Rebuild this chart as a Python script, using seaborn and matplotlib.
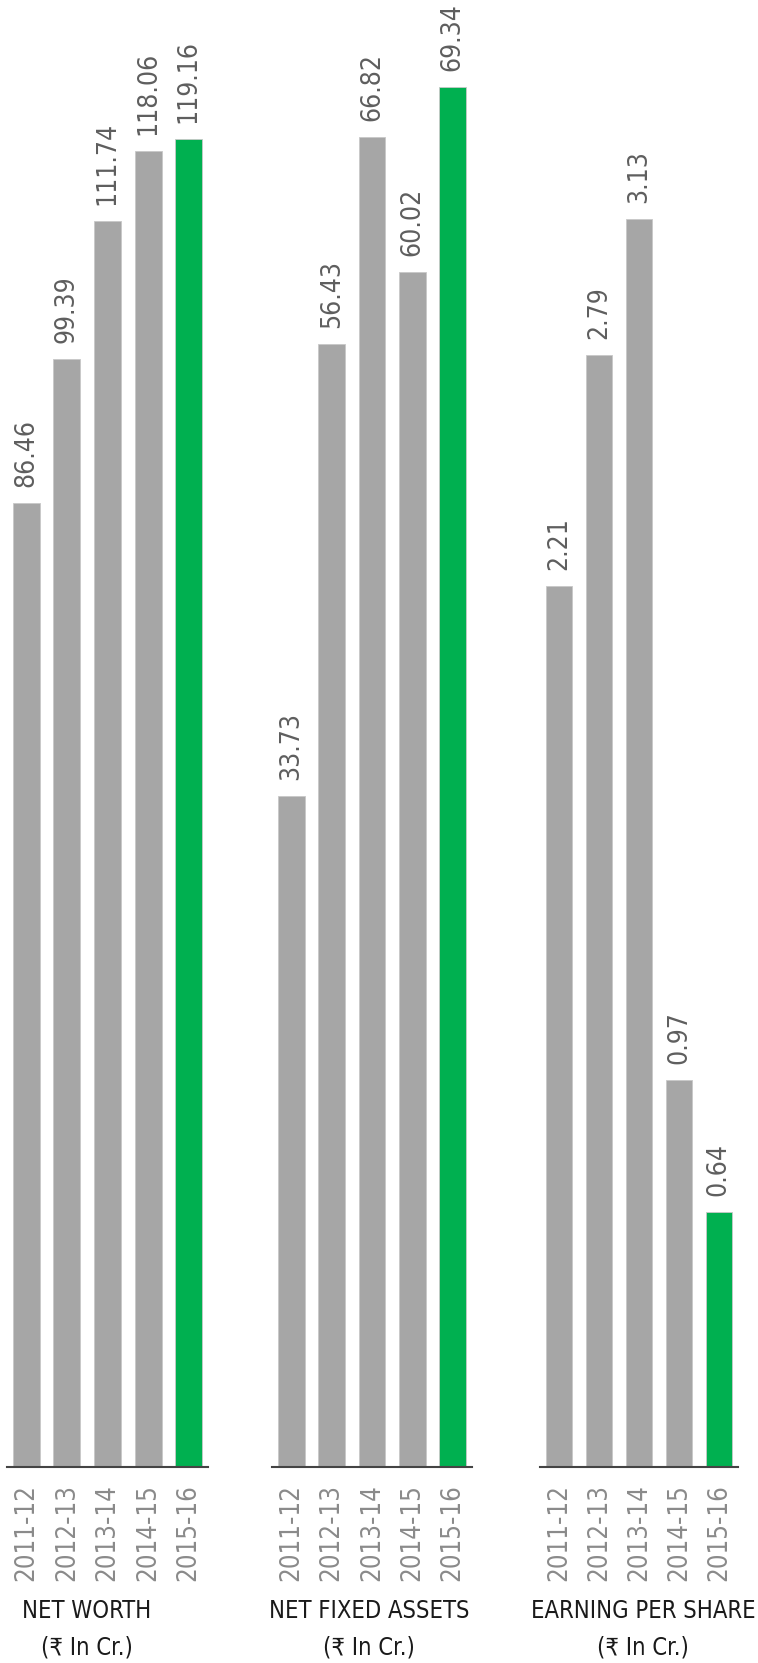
import matplotlib
matplotlib.use("Agg")
import matplotlib.pyplot as plt
import seaborn as sns
import pandas as pd

years = ["2011-12", "2012-13", "2013-14", "2014-15", "2015-16"]
net_worth = [86.46, 99.39, 111.74, 118.06, 119.16]
net_fixed_assets = [33.73, 56.43, 66.82, 60.02, 69.34]
eps = [2.21, 2.79, 3.13, 0.97, 0.64]
titles = ["NET WORTH", "NET FIXED ASSETS", "EARNING PER SHARE"]
subtitle = "(₹ In Cr.)"

GREY = "#A6A6A6"
GREEN = "#00B050"
colors = [GREY, GREY, GREY, GREY, GREEN]

sns.set_theme(style="white")
plt.rcParams["font.family"] = ["DejaVu Sans"]

W, H = 758, 1663
fig = plt.figure(figsize=(W / 100, H / 100), dpi=100)

panels = [
    (net_worth, 7, 201, 131.6, "{:.2f}"),
    (net_fixed_assets, 272, 200, 73.7, "{:.2f}"),
    (eps, 540, 198, 3.68, "{:.2f}"),
]
title_x = [87, 369, 643]
base_y = 1467

for i, (vals, x0, w, ytop, fmt) in enumerate(panels):
    ax = fig.add_axes([x0 / W, (H - base_y) / H, w / W, base_y / H])
    df = pd.DataFrame({"year": years, "value": vals})
    sns.barplot(data=df, x="year", y="value", hue="year", palette=colors,
                legend=False, width=0.667, saturation=1, ax=ax,
                edgecolor="#C8C8C8", linewidth=0.6)
    ax.set_xlim(-0.48, 4.48)
    ax.set_ylim(0, ytop)
    ax.set_xlabel("")
    ax.set_ylabel("")
    ax.set_yticks([])
    for s in ["top", "left", "right"]:
        ax.spines[s].set_visible(False)
    ax.spines["bottom"].set_color("#444444")
    ax.spines["bottom"].set_linewidth(1.5)
    ax.tick_params(axis="x", length=0, pad=12)
    ax.set_xticks(range(len(years)))
    ax.set_xticklabels(years, rotation=90, fontsize=18.5, color="#8A8A8A",
                       va="top", ha="center", fontstretch="condensed")
    for j, v in enumerate(vals):
        ax.annotate(fmt.format(v), xy=(j, v), xytext=(0, 11.5),
                    textcoords="offset points", rotation=90,
                    ha="center", va="bottom", fontsize=19, color="#5E5E5E",
                    fontstretch="condensed")
    fig.text(title_x[i] / W, 1 - 1611 / H, titles[i], ha="center", va="center",
             fontsize=17, color="#1A1A1A", fontstretch="condensed")
    fig.text(title_x[i] / W, 1 - 1648 / H, subtitle, ha="center", va="center",
             fontsize=17, color="#1A1A1A", fontstretch="condensed")

fig.savefig("out.png", dpi=100)
